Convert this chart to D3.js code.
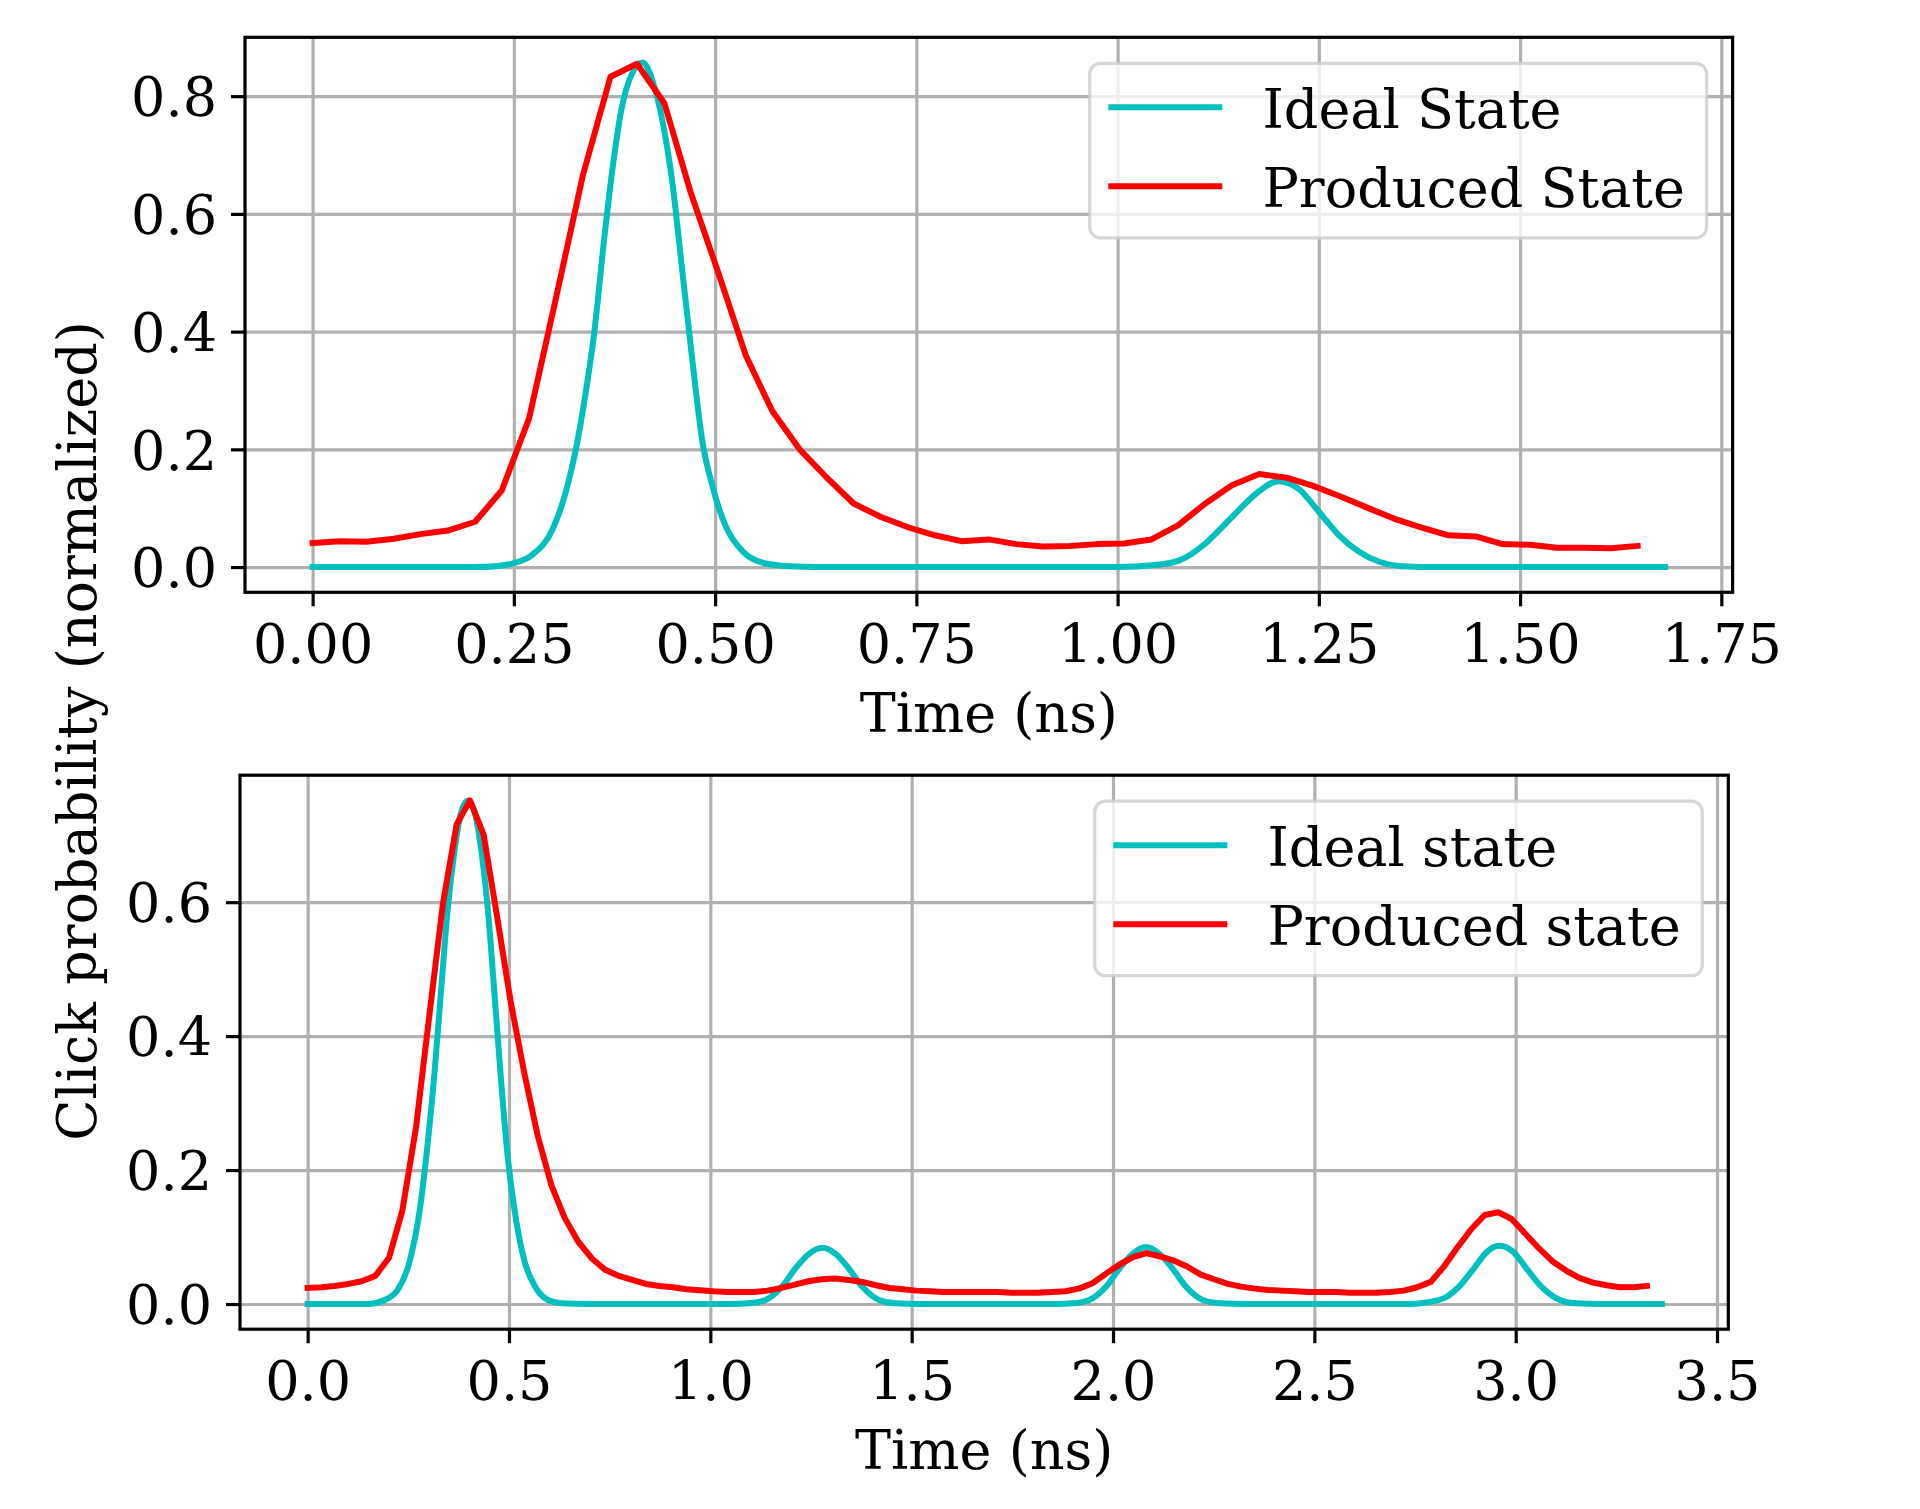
<!DOCTYPE html>
<html>
<head>
<meta charset="utf-8">
<script src="https://cdn.jsdelivr.net/npm/d3@7"></script>
<style>
  body { margin: 0; background: #fff; }
  text { font-family: "DejaVu Serif", serif; }
</style>
</head>
<body>
<div id="chart"></div>
<script>
// ---- top panel data ----
const topIdealTime = [0, 0.200, 0.230, 0.248, 0.273, 0.298, 0.315, 0.327, 0.339, 0.350, 0.362, 0.3725, 0.383, 0.397, 0.410,
    0.422, 0.435, 0.447, 0.459, 0.472, 0.484, 0.497, 0.513, 0.534, 0.563, 0.600, 0.650,
    1.000, 1.043, 1.076, 1.109, 1.130, 1.150, 1.175, 1.200, 1.225, 1.250, 1.275, 1.300, 1.325, 1.350, 1.400, 1.680];
const topIdealValue = [0, 0, 0.002, 0.006, 0.021, 0.064, 0.130, 0.200, 0.294, 0.400, 0.555, 0.676, 0.773, 0.839, 0.857,
    0.827, 0.755, 0.652, 0.506, 0.348, 0.215, 0.136, 0.070, 0.027, 0.006, 0.001, 0,
    0, 0.003, 0.011, 0.040, 0.068, 0.096, 0.128, 0.146, 0.133, 0.094, 0.054, 0.026, 0.009, 0.002, 0, 0];
const topProducedTime = [0.000, 0.034, 0.067, 0.101, 0.134, 0.168, 0.202, 0.235, 0.269, 0.302,
    0.336, 0.370, 0.403, 0.437, 0.470, 0.504, 0.538, 0.571, 0.605, 0.638,
    0.672, 0.706, 0.739, 0.773, 0.806, 0.840, 0.874, 0.907, 0.941, 0.974,
    1.008, 1.042, 1.075, 1.109, 1.142, 1.176, 1.210, 1.243, 1.277, 1.310,
    1.344, 1.378, 1.411, 1.445, 1.478, 1.512, 1.546, 1.579, 1.613, 1.646];
const topProducedValue = [0.041, 0.044, 0.043, 0.048, 0.056, 0.062, 0.077, 0.130, 0.253, 0.455,
    0.667, 0.833, 0.855, 0.788, 0.635, 0.500, 0.360, 0.265, 0.200, 0.153,
    0.108, 0.085, 0.068, 0.054, 0.044, 0.047, 0.039, 0.035, 0.036, 0.039,
    0.040, 0.047, 0.071, 0.108, 0.139, 0.158, 0.152, 0.138, 0.120, 0.101,
    0.082, 0.067, 0.054, 0.052, 0.039, 0.038, 0.033, 0.033, 0.032, 0.036];
const topXTicks = [0, 0.25, 0.5, 0.75, 1.0, 1.25, 1.5, 1.75];
const topYTicks = [0, 0.2, 0.4, 0.6, 0.8];
const topLabels = ["Ideal State", "Produced State"];

// ---- bottom panel data ----
const botIdealTime = [0, 0.150, 0.191, 0.224, 0.253, 0.278, 0.2985, 0.315, 0.332, 0.348, 0.365, 0.381, 0.398,
    0.415, 0.431, 0.448, 0.464, 0.481, 0.4975, 0.518, 0.539, 0.564, 0.597, 0.630, 0.700,
    1.050, 1.095, 1.137, 1.178, 1.211, 1.245, 1.278, 1.311, 1.344, 1.377, 1.419, 1.460, 1.520,
    1.860, 1.900, 1.941, 1.983, 2.016, 2.049, 2.082, 2.115, 2.148, 2.181, 2.223, 2.267, 2.330,
    2.730, 2.774, 2.826, 2.861, 2.896, 2.927, 2.959, 2.992, 3.027, 3.062, 3.097, 3.150, 3.210, 3.363];
const botIdealValue = [0, 0, 0.006, 0.0215, 0.063, 0.139, 0.242, 0.345, 0.473, 0.591, 0.678, 0.734, 0.752,
    0.734, 0.678, 0.586, 0.463, 0.329, 0.216, 0.124, 0.063, 0.027, 0.006, 0.001, 0,
    0, 0.001, 0.006, 0.026, 0.053, 0.075, 0.084, 0.075, 0.053, 0.026, 0.006, 0.001, 0,
    0, 0.001, 0.006, 0.026, 0.053, 0.075, 0.085, 0.075, 0.053, 0.026, 0.006, 0.001, 0,
    0, 0.002, 0.010, 0.027, 0.053, 0.077, 0.087, 0.079, 0.053, 0.027, 0.010, 0.001, 0, 0];
const botProducedTime = [0.000, 0.034, 0.067, 0.101, 0.134, 0.168, 0.202, 0.235, 0.269, 0.302,
    0.336, 0.370, 0.403, 0.437, 0.470, 0.504, 0.538, 0.571, 0.605, 0.638,
    0.672, 0.706, 0.739, 0.773, 0.806, 0.840, 0.874, 0.907, 0.941, 0.974,
    1.008, 1.042, 1.075, 1.109, 1.142, 1.176, 1.210, 1.243, 1.277, 1.310,
    1.344, 1.378, 1.411, 1.445, 1.478, 1.512, 1.546, 1.579, 1.613, 1.646,
    1.680, 1.714, 1.747, 1.781, 1.814, 1.848, 1.882, 1.915, 1.949, 1.982,
    2.016, 2.050, 2.083, 2.117, 2.150, 2.184, 2.218, 2.251, 2.285, 2.318,
    2.352, 2.386, 2.419, 2.453, 2.486, 2.520, 2.554, 2.587, 2.621, 2.654,
    2.688, 2.722, 2.755, 2.789, 2.822, 2.856, 2.890, 2.923, 2.957, 2.990,
    3.024, 3.058, 3.091, 3.125, 3.158, 3.192, 3.226, 3.259, 3.293, 3.326];
const botProducedValue = [0.024, 0.025, 0.027, 0.030, 0.034, 0.042, 0.069, 0.139, 0.263, 0.430,
    0.598, 0.716, 0.752, 0.701, 0.580, 0.452, 0.345, 0.252, 0.178, 0.129,
    0.093, 0.068, 0.051, 0.042, 0.036, 0.030, 0.027, 0.025, 0.022, 0.0205,
    0.019, 0.018, 0.018, 0.018, 0.020, 0.024, 0.029, 0.034, 0.037, 0.038,
    0.036, 0.033, 0.028, 0.024, 0.022, 0.020, 0.019, 0.018, 0.018, 0.018,
    0.018, 0.018, 0.017, 0.017, 0.017, 0.018, 0.019, 0.023, 0.031, 0.045,
    0.059, 0.070, 0.076, 0.071, 0.065, 0.056, 0.044, 0.037, 0.030, 0.026,
    0.023, 0.021, 0.020, 0.019, 0.018, 0.018, 0.018, 0.017, 0.017, 0.017,
    0.018, 0.020, 0.025, 0.033, 0.056, 0.085, 0.112, 0.133, 0.137, 0.127,
    0.105, 0.083, 0.064, 0.050, 0.039, 0.032, 0.028, 0.025, 0.025, 0.027];
const botXTicks = [0, 0.5, 1.0, 1.5, 2.0, 2.5, 3.0, 3.5];
const botYTicks = [0, 0.2, 0.4, 0.6];
const botLabels = ["Ideal state", "Produced state"];

const xLabel = "Time (ns)";
const yLabel = "Click probability (normalized)";

// ---- drawing ----
const W = 1920, H = 1509;
const FONT = 54;
const EM = FONT;
const LINE_W = 6, GRID_W = 3.2, SPINE_W = 3.2, TICK_LEN = 14;
const IDEAL_COLOR = "#00bfbf", PRODUCED_COLOR = "#ff0000";

const svg = d3.select("#chart")
    .append("svg")
    .attr("width", W)
    .attr("height", H)
    .style("background", "#fff");

function drawPanel(p) {
    const x = d3.scaleLinear().domain(p.xDomain).range([p.left, p.right]);
    const y = d3.scaleLinear().domain(p.yDomain).range([p.bottom, p.top]);
    const w = p.right - p.left, h = p.bottom - p.top;
    const g = svg.append("g");

    // grid
    g.append("g")
        .attr("transform", `translate(0,${p.bottom})`)
        .call(d3.axisBottom(x).tickValues(p.xTicks).tickSize(-h).tickFormat(""))
        .call(s => s.select(".domain").remove())
        .selectAll("line")
        .attr("stroke", "#b0b0b0")
        .attr("stroke-width", GRID_W);
    g.append("g")
        .attr("transform", `translate(${p.left},0)`)
        .call(d3.axisLeft(y).tickValues(p.yTicks).tickSize(-w).tickFormat(""))
        .call(s => s.select(".domain").remove())
        .selectAll("line")
        .attr("stroke", "#b0b0b0")
        .attr("stroke-width", GRID_W);

    // curves
    const smooth = d3.line().x(d => x(d[0])).y(d => y(d[1])).curve(d3.curveMonotoneX);
    const straight = d3.line().x(d => x(d[0])).y(d => y(d[1]));
    g.append("path")
        .datum(d3.zip(p.idealTime, p.idealValue))
        .attr("d", smooth)
        .attr("fill", "none")
        .attr("stroke", IDEAL_COLOR)
        .attr("stroke-width", LINE_W)
        .attr("stroke-linejoin", "round")
        .attr("stroke-linecap", "square");
    g.append("path")
        .datum(d3.zip(p.producedTime, p.producedValue))
        .attr("d", straight)
        .attr("fill", "none")
        .attr("stroke", PRODUCED_COLOR)
        .attr("stroke-width", LINE_W)
        .attr("stroke-linejoin", "round")
        .attr("stroke-linecap", "square");

    // spines
    g.append("rect")
        .attr("x", p.left).attr("y", p.top)
        .attr("width", w).attr("height", h)
        .attr("fill", "none")
        .attr("stroke", "#000")
        .attr("stroke-width", SPINE_W);

    // axes
    const xAxis = g.append("g")
        .attr("transform", `translate(0,${p.bottom})`)
        .call(d3.axisBottom(x).tickValues(p.xTicks).tickFormat(d3.format(p.xFormat)).tickSize(TICK_LEN).tickSizeOuter(0));
    xAxis.select(".domain").remove();
    xAxis.selectAll("line").attr("stroke", "#000").attr("stroke-width", SPINE_W);
    xAxis.selectAll("text")
        .attr("y", 71).attr("dy", null)
        .attr("fill", "#000")
        .style("font-family", '"DejaVu Serif", serif')
        .style("font-size", FONT + "px");

    const yAxis = g.append("g")
        .attr("transform", `translate(${p.left},0)`)
        .call(d3.axisLeft(y).tickValues(p.yTicks).tickFormat(d3.format(".1f")).tickSize(TICK_LEN).tickSizeOuter(0));
    yAxis.select(".domain").remove();
    yAxis.selectAll("line").attr("stroke", "#000").attr("stroke-width", SPINE_W);
    yAxis.selectAll("text")
        .attr("x", -28).attr("dy", "0.365em")
        .attr("fill", "#000")
        .style("font-family", '"DejaVu Serif", serif')
        .style("font-size", FONT + "px");

    g.append("text")
        .attr("x", (p.left + p.right) / 2)
        .attr("y", p.bottom + 140)
        .attr("text-anchor", "middle")
        .style("font-size", FONT + "px")
        .text(xLabel);

    drawLegend(p);
}

function drawLegend(p) {
    const lg = svg.append("g");
    const pad = 0.4 * EM, handle = 2 * EM, gap = 0.8 * EM;
    const boxTop = p.top + 26;
    const rowY = [boxTop + 44, boxTop + 123];
    const colors = [IDEAL_COLOR, PRODUCED_COLOR];
    const frame = lg.append("rect");
    const texts = lg.selectAll("text.leg")
        .data(p.labels)
        .enter()
        .append("text")
        .attr("class", "leg")
        .attr("y", (d, i) => rowY[i] + 20.5)
        .style("font-size", FONT + "px")
        .text(d => d);
    const textW = d3.max(texts.nodes(), n => n.getComputedTextLength());
    const boxW = pad + handle + gap + textW + pad;
    const boxLeft = p.right - 26 - boxW;
    frame.attr("x", boxLeft).attr("y", boxTop)
        .attr("width", boxW).attr("height", 174.5)
        .attr("rx", 10.8).attr("ry", 10.8)
        .attr("fill", "#fff").attr("fill-opacity", 0.8)
        .attr("stroke", "#cccccc").attr("stroke-opacity", 0.8)
        .attr("stroke-width", 3.2);
    texts.attr("x", boxLeft + pad + handle + gap);
    lg.selectAll("line.leg")
        .data(p.labels)
        .enter()
        .append("line")
        .attr("x1", boxLeft + pad)
        .attr("x2", boxLeft + pad + handle)
        .attr("y1", (d, i) => rowY[i])
        .attr("y2", (d, i) => rowY[i])
        .attr("stroke", (d, i) => colors[i])
        .attr("stroke-width", LINE_W)
        .attr("stroke-linecap", "square");
}

drawPanel({
    left: 245, right: 1732.6, top: 37.3, bottom: 592.3,
    xDomain: [-0.084, 1.764], yDomain: [-0.04285, 0.9],
    xTicks: topXTicks, yTicks: topYTicks, xFormat: ".2f",
    idealTime: topIdealTime, idealValue: topIdealValue,
    producedTime: topProducedTime, producedValue: topProducedValue,
    labels: topLabels
});

drawPanel({
    left: 240, right: 1728.3, top: 775.2, bottom: 1329.2,
    xDomain: [-0.168, 3.528], yDomain: [-0.0376, 0.7896],
    xTicks: botXTicks, yTicks: botYTicks, xFormat: ".1f",
    idealTime: botIdealTime, idealValue: botIdealValue,
    producedTime: botProducedTime, producedValue: botProducedValue,
    labels: botLabels
});

svg.append("text")
    .attr("transform", "translate(96,731) rotate(-90)")
    .attr("text-anchor", "middle")
    .style("font-size", FONT + "px")
    .text(yLabel);
</script>
</body>
</html>
